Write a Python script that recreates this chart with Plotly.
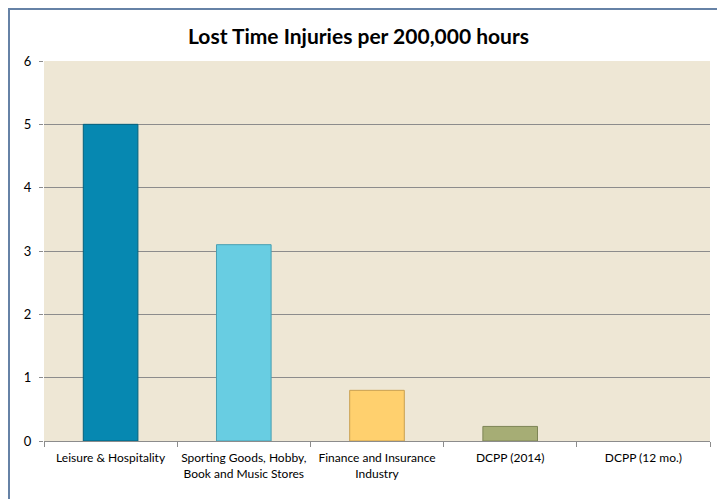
import plotly.graph_objects as go

categories = ["Leisure & Hospitality", "Sporting Goods, Hobby,<br>Book and Music Stores",
              "Finance and Insurance<br>Industry", "DCPP (2014)", "DCPP (12 mo.)"]
values = [5.0, 3.1, 0.8, 0.23, 0.0]
bar_colors = ["#0688B1", "#68CDE2", "#FFD06E", "#A6AD75", "rgba(0,0,0,0)"]
line_colors = ["#05607C", "#4A9FB2", "#C9A050", "#7E8556", "rgba(0,0,0,0)"]
y_ticks = [0, 1, 2, 3, 4, 5, 6]

W, H = 717, 499
L, R, T, B = 44, 7, 61, 58
pw, ph = W - L - R, H - T - B

fig = go.Figure(go.Bar(
    x=categories, y=values,
    marker=dict(color=bar_colors, line=dict(color=line_colors, width=1)),
    width=0.41,
))

def px(p):
    return (p - L) / pw

def py(q):
    return (H - B - q) / ph

fig.update_layout(
    width=W, height=H,
    margin=dict(l=L, r=R, t=T, b=B, autoexpand=False),
    paper_bgcolor="white",
    plot_bgcolor="#EEE7D5",
    font=dict(family="Lato, 'Open Sans', sans-serif", size=12, color="black"),
    title=dict(text="<b>Lost Time Injuries per 200,000 hours</b>",
               x=0.5, xanchor="center", y=1 - 37 / H, yanchor="middle",
               font=dict(size=21, color="black")),
    showlegend=False,
    bargap=0.59,
    xaxis=dict(showgrid=False, ticks="outside", tickson="boundaries", ticklen=5,
               tickcolor="#8C8C8C", showline=True, linecolor="#8C8C8C", linewidth=1,
               tickangle=0, automargin=False, ticklabelstandoff=6,
               tickfont=dict(size=12)),
    yaxis=dict(range=[0, 6], tickvals=y_ticks, showgrid=True, gridcolor="#8C8C8C",
               gridwidth=1, ticks="outside", ticklen=4, tickcolor="#8C8C8C",
               zeroline=False, showline=False, automargin=False,
               ticklabelstandoff=5, tickfont=dict(size=13)),
    shapes=[dict(type="rect", xref="paper", yref="paper",
                 x0=px(9), x1=px(W + 10), y0=py(H + 10), y1=py(9),
                 line=dict(color="#6682A6", width=2), layer="below")],
)

fig.write_html("out.html", config={"displayModeBar": False},
               post_script="document.body.style.margin='0';")
